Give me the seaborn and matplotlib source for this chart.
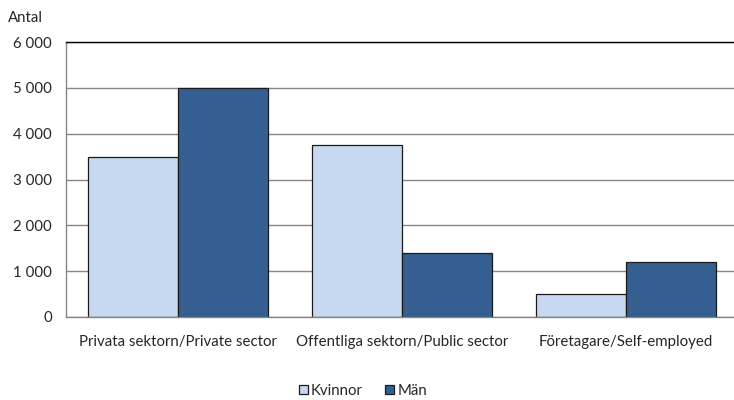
import matplotlib
matplotlib.use("Agg")
import matplotlib.pyplot as plt
import seaborn as sns
import pandas as pd

categories = ['Privata sektorn/Private sector', 'Offentliga sektorn/Public sector',
              'Företagare/Self-employed']
kvinnor = [3500, 3750, 500]
man = [5000, 1400, 1200]
series = ['Kvinnor', 'Män']
yticks = [0, 1000, 2000, 3000, 4000, 5000, 6000]
ytick_labels = ['0', '1 000', '2 000', '3 000', '4 000', '5 000', '6 000']

df = pd.DataFrame({
    'kategori': categories * 2,
    'antal': kvinnor + man,
    'kon': [series[0]] * 3 + [series[1]] * 3,
})

sns.set_style('white')
plt.rcParams['font.family'] = ['Lato', 'DejaVu Sans']
fs = 10.8

fig = plt.figure(figsize=(7.34, 4.0), dpi=100)
ax = fig.add_axes([66 / 734, 1 - 317 / 400, 672 / 734, 275 / 400])

sns.barplot(data=df, x='kategori', y='antal', hue='kon', ax=ax,
            palette=['#C6D9F1', '#355F91'], edgecolor='#1a1a1a', linewidth=0.9,
            width=0.8, saturation=1)

ax.set_ylim(0, 6000)
ax.set_xlim(-0.5, 2.5)
ax.set_yticks(yticks)
ax.set_yticklabels(ytick_labels, fontsize=fs)
ax.tick_params(axis='x', labelsize=fs, length=0, pad=13)
ax.tick_params(axis='y', length=5, color='#868686', width=1, pad=5)
ax.set_xlabel('')
ax.set_ylabel('')
ax.yaxis.grid(True, color='#868686', linewidth=1)
ax.set_axisbelow(True)

for s in ['left', 'bottom']:
    ax.spines[s].set_color('#868686')
    ax.spines[s].set_linewidth(1)
ax.spines['top'].set_color('#000000')
ax.spines['top'].set_linewidth(1)
ax.spines['right'].set_visible(False)

fig.text(8 / 734, 1 - 18 / 400, 'Antal', fontsize=fs, va='center', ha='left')

handles, labels = ax.get_legend_handles_labels()
ax.legend(handles, labels, loc='center', bbox_to_anchor=(363 / 734, 1 - 391 / 400),
          bbox_transform=fig.transFigure, ncol=2, frameon=False, fontsize=fs,
          handlelength=0.6, handleheight=0.6, handletextpad=0.2, columnspacing=1.5,
          borderpad=0)

fig.savefig('out.png', dpi=100)
